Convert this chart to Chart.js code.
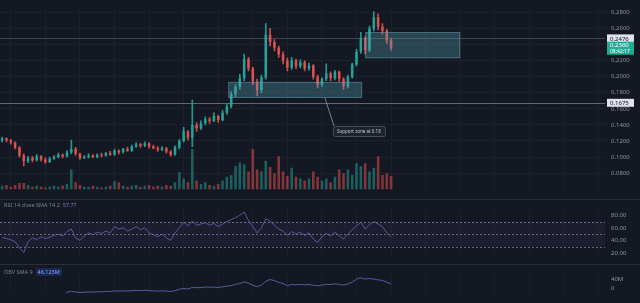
<!DOCTYPE html>
<html>
<head>
<meta charset="utf-8">
<script src="https://cdn.jsdelivr.net/npm/chart.js@4.4.1/dist/chart.umd.min.js"></script>
<style>
  html, body { margin: 0; padding: 0; background: #141823; }
  #wrap { position: relative; width: 640px; height: 303px; overflow: hidden; font-family: "Noto Sans", sans-serif; }
  .pane { position: absolute; left: 0; width: 640px; }
  #pricePane { top: 0; height: 199px; }
  #rsiPane { top: 200px; height: 64px; }
  #obvPane { top: 265px; height: 38px; }
  .sep { position: absolute; left: 0; width: 640px; height: 1px; background: #2a2e39; }
  .legend { position: absolute; left: 4px; font-size: 5.5px; color: #7c808b; white-space: nowrap; }
</style>
</head>
<body>
<div id="wrap">
  <div class="pane" id="pricePane"><canvas id="priceChart"></canvas></div>
  <div class="sep" style="top:199px"></div>
  <div class="pane" id="rsiPane"><canvas id="rsiChart"></canvas></div>
  <div class="sep" style="top:264px"></div>
  <div class="pane" id="obvPane"><canvas id="obvChart"></canvas></div>
  <div class="legend" style="top:201px">RSI 14 close SMA 14 2 &nbsp;<span style="color:#8a6fd0">57.77</span></div>
  <div class="legend" style="top:268px">OBV SMA 9 &nbsp;<span style="color:#8fa8ff;background:rgba(41,98,255,0.22);padding:0 2px">46.123M</span></div>
</div>
<script>
// candles (OHLC), one per bar
const opens  = [.121,.123,.121,.118,.112,.102,.095,.099,.096,.101,.097,.094,.098,.100,.103,.101,.106,.110,.104,.099,
                .100,.102,.100,.103,.102,.105,.103,.108,.106,.110,.108,.113,.116,.114,.117,.113,.111,.109,.111,.107,
                .103,.112,.120,.132,.124,.140,.136,.142,.147,.145,.151,.146,.155,.163,.178,.187,.198,.222,.210,.194,
                .183,.199,.252,.243,.236,.228,.220,.211,.220,.213,.218,.210,.214,.200,.190,.197,.204,.198,.206,.197,
                .188,.200,.215,.231,.248,.233,.260,.274,.262,.257,.245];
const closes = [.123,.121,.118,.112,.102,.095,.099,.096,.101,.097,.094,.098,.100,.103,.101,.106,.110,.104,.099,.100,
                .102,.100,.103,.102,.105,.103,.108,.106,.110,.108,.113,.116,.114,.117,.113,.111,.109,.111,.107,.103,
                .112,.120,.132,.124,.140,.136,.142,.147,.145,.151,.146,.155,.163,.178,.187,.198,.222,.210,.194,.183,
                .199,.252,.243,.236,.228,.220,.211,.220,.213,.218,.210,.214,.200,.190,.197,.204,.198,.206,.197,.188,
                .200,.215,.231,.248,.233,.260,.274,.262,.257,.245,.236];
const highs  = [.125,.124,.122,.119,.113,.104,.101,.101,.103,.102,.099,.100,.102,.105,.104,.108,.121,.112,.105,.102,
                .104,.103,.104,.105,.106,.107,.110,.109,.111,.112,.115,.118,.117,.119,.118,.115,.113,.113,.112,.108,
                .114,.122,.137,.133,.171,.143,.145,.150,.149,.155,.152,.158,.166,.181,.190,.203,.228,.224,.212,.197,
                .202,.266,.260,.246,.238,.231,.223,.224,.222,.221,.220,.217,.215,.202,.199,.216,.206,.208,.207,.199,
                .202,.217,.234,.255,.250,.263,.281,.278,.266,.259,.248];
const lows   = [.119,.119,.116,.110,.100,.089,.093,.094,.095,.095,.092,.093,.097,.099,.099,.100,.104,.102,.097,.098,
                .099,.099,.099,.100,.101,.102,.102,.104,.105,.107,.107,.112,.112,.113,.111,.110,.107,.108,.105,.101,
                .102,.110,.119,.121,.113,.132,.134,.140,.142,.144,.143,.145,.153,.161,.175,.184,.195,.207,.190,.176,
                .180,.197,.238,.232,.224,.216,.207,.209,.210,.211,.207,.208,.197,.186,.188,.195,.195,.196,.194,.184,
                .186,.198,.213,.229,.228,.231,.257,.258,.253,.241,.233];
// volume in millions
const volumes = [4,5,3,5,7,7,5,3,4,3,2,3,4,3,4,6,22,8,5,3,
                 3,4,3,2,3,4,9,8,4,3,4,5,3,4,5,3,4,3,5,4,
                 8,19,12,8,45,10,6,8,5,4,6,10,14,16,26,30,28,20,45,22,
                 20,32,25,18,37,20,15,24,14,12,10,12,20,14,10,12,8,14,22,18,
                 22,16,29,26,29,20,24,37,16,18,15];
// RSI(14)
const rsiValues = [45,43,41,38,28,21,38,44,41,46,43,45,48,50,47,54,58,44,40,47,
                   52,49,53,51,55,52,62,58,60,55,58,62,57,60,52,49,46,50,44,40,
                   52,60,69,63,71,64,66,68,64,67,62,66,70,73,76,80,85,72,62,52,
                   60,74,71,64,58,55,48,54,50,53,48,52,42,37,46,51,47,53,47,42,
                   50,57,63,69,58,65,70,66,62,52,46];
// OBV, millions
const obvValues = [-40,-41,-43,-46,-50,-54,-50,-52,-49,-51,-53,-50,-47,-44,-46,-19,-15,-18,-20,-19,
                   -18,-19,-17,-17,-16,-16,-13,-14,-13,-14,-12,-11,-12,-10,-12,-13,-14,-13,-14,-16,
                   -12,-6,-2,-5,3,1,2,4,3,4,2,5,8,11,16,20,27,22,12,6,
                   12,30,38,33,25,20,10,16,14,16,14,16,12,10,13,17,15,19,16,13,
                   18,26,40,46,40,42,40,36,34,26,18];

// axis ticks
const priceTicks = [0.08, 0.10, 0.12, 0.14, 0.16, 0.18, 0.20, 0.22, 0.24, 0.26, 0.28];
const rsiTicks = [20, 40, 60, 80];
const rsiLevels = [70, 50, 30];
const obvTicks = [0, 40];

// drawings on the price pane
const supportZone = { from: 52.3, to: 83.3, low: 0.1735, high: 0.1935 };
const resistZone  = { from: 84.0, to: 106.0, low: 0.2229, high: 0.2555 };
const hLines = [0.2476, 0.1675];
const hLineAlpha = [0.3, 0.55];
const calloutAt = { index: 74.7, price: 0.1735, text: 'Support zone at 0.18' };
const lastPrice = 0.2360;
const countdown = '08:42:17';

const N_SLOTS = 140; // candles + empty space on the right
const slotLabels = Array.from({ length: N_SLOTS }, (_, i) => String(i));

const GRID = '#1c202b';
const TICK = '#8e929c';
const UP = 'rgba(38,166,154,0.9)';
const DOWN = 'rgba(226,84,82,0.88)';

const candleColors = closes.map((c, i) => c >= opens[i] ? UP : DOWN);
const volColors = closes.map((c, i) => c >= opens[i] ? 'rgba(38,166,154,0.5)' : 'rgba(239,83,80,0.5)');

// shared x axis (hidden, only a few vertical grid lines)
function timeAxis() {
    return {
        type: 'category',
        offset: true,
        border: { display: false },
        ticks: { display: false, autoSkip: false },
        grid: { offset: false, drawTicks: false, color: c => (c.index % 8 === 2 ? GRID : 'transparent') },
        afterFit: s => { s.height = 0; }
    };
}

function rightAxis(min, max, ticks, fmt, showGrid) {
    return {
        position: 'right',
        min: min,
        max: max,
        border: { display: false },
        grid: { display: showGrid, color: GRID, drawTicks: false },
        afterBuildTicks: s => { s.ticks = ticks.map(v => ({ value: v })); },
        ticks: { color: TICK, padding: 6, font: { size: 6, family: 'Noto Sans' }, callback: fmt },
        afterFit: s => { s.width = 35; }
    };
}

const baseOpts = {
    responsive: true,
    maintainAspectRatio: false,
    animation: false,
    layout: { padding: 0 },
    plugins: { legend: { display: false }, tooltip: { enabled: false } }
};

// lines, zones, callout and price labels
const priceOverlay = {
    id: 'priceOverlay',
    beforeDatasetsDraw(chart) {
        const { ctx, chartArea: a, scales: { y } } = chart;
        ctx.save();
        ctx.lineWidth = 1;
        hLines.forEach((p, i) => {
            const py = Math.round(y.getPixelForValue(p)) + 0.5;
            ctx.strokeStyle = `rgba(160,165,178,${hLineAlpha[i]})`;
            ctx.beginPath(); ctx.moveTo(a.left, py); ctx.lineTo(a.right, py); ctx.stroke();
        });
        ctx.restore();
    },
    afterDatasetsDraw(chart) {
        const { ctx, scales: { x, y } } = chart;
        ctx.save();
        [supportZone, resistZone].forEach(z => {
            const x1 = x.getPixelForValue(z.from), x2 = x.getPixelForValue(z.to);
            const y1 = y.getPixelForValue(z.high), y2 = y.getPixelForValue(z.low);
            ctx.fillStyle = 'rgba(88,160,180,0.33)';
            ctx.fillRect(x1, y1, x2 - x1, y2 - y1);
            ctx.strokeStyle = 'rgba(110,170,190,0.4)';
            ctx.strokeRect(x1 + 0.5, y1 + 0.5, x2 - x1 - 1, y2 - y1 - 1);
        });
        // callout
        const ax = x.getPixelForValue(calloutAt.index);
        const ay = y.getPixelForValue(calloutAt.price);
        ctx.strokeStyle = 'rgba(130,170,185,0.75)';
        ctx.beginPath(); ctx.moveTo(ax, ay); ctx.lineTo(ax + 9, ay + 28); ctx.stroke();
        const bx = ax + 8, by = ay + 28;
        ctx.fillStyle = '#1e222d';
        ctx.strokeStyle = '#4a4e59';
        ctx.beginPath();
        ctx.roundRect(bx + 0.5, by + 0.5, 52, 10, 2);
        ctx.fill(); ctx.stroke();
        ctx.fillStyle = '#c3c6ce';
        ctx.font = '4.5px "Noto Sans"';
        ctx.textBaseline = 'middle';
        ctx.fillText(calloutAt.text, bx + 4, by + 5.5);
        ctx.restore();
    },
    afterDraw(chart) {
        const { ctx, chartArea: a, scales: { y } } = chart;
        ctx.save();
        ctx.font = '6px "Noto Sans"';
        ctx.textBaseline = 'middle';
        hLines.forEach(p => {
            const py = y.getPixelForValue(p);
            ctx.fillStyle = '#dfe2ea';
            ctx.fillRect(a.right + 2, py - 4, 27, 8);
            ctx.fillStyle = '#131722';
            ctx.fillText(p.toFixed(4), a.right + 5, py + 0.5);
        });
        const ly = y.getPixelForValue(lastPrice);
        ctx.fillStyle = '#22ab94';
        ctx.fillRect(a.right + 2, ly - 6, 27, 13);
        ctx.fillStyle = '#ffffff';
        ctx.fillText(lastPrice.toFixed(4), a.right + 5, ly - 2.5);
        ctx.font = '5px "Noto Sans"';
        ctx.fillText(countdown, a.right + 5, ly + 3.5);
        ctx.restore();
    }
};

new Chart(document.getElementById('priceChart'), {
    type: 'bar',
    data: {
        labels: slotLabels,
        datasets: [
            { data: lows.map((l, i) => [l, highs[i]]), backgroundColor: candleColors, barThickness: 1, grouped: false, yAxisID: 'y', order: 2 },
            { data: opens.map((o, i) => [o, closes[i]]), backgroundColor: candleColors, barPercentage: 0.6, categoryPercentage: 1, grouped: false, yAxisID: 'y', order: 1 },
            { data: volumes, backgroundColor: volColors, barPercentage: 0.6, categoryPercentage: 1, grouped: false, yAxisID: 'yVol', order: 3 }
        ]
    },
    options: {
        ...baseOpts,
        scales: {
            x: timeAxis(),
            y: rightAxis(0.0598, 0.2834, priceTicks, v => v.toFixed(4), true),
            yVol: { display: false, min: 0, max: 200 }
        }
    },
    plugins: [priceOverlay]
});

// RSI band and dashed levels
const rsiBands = {
    id: 'rsiBands',
    beforeDatasetsDraw(chart) {
        const { ctx, chartArea: a, scales: { y } } = chart;
        ctx.save();
        const top = y.getPixelForValue(rsiLevels[0]), bot = y.getPixelForValue(rsiLevels[2]);
        ctx.fillStyle = 'rgba(126,87,194,0.08)';
        ctx.fillRect(a.left, top, a.right - a.left, bot - top);
        ctx.strokeStyle = 'rgba(170,172,185,0.55)';
        ctx.setLineDash([2, 2]);
        rsiLevels.forEach(v => {
            const py = Math.round(y.getPixelForValue(v)) + 0.5;
            ctx.beginPath(); ctx.moveTo(a.left, py); ctx.lineTo(a.right, py); ctx.stroke();
        });
        ctx.restore();
    }
};

new Chart(document.getElementById('rsiChart'), {
    type: 'line',
    data: {
        labels: slotLabels,
        datasets: [{ data: rsiValues, borderColor: 'rgba(115,105,190,0.75)', borderWidth: 1, pointRadius: 0, tension: 0 }]
    },
    options: {
        ...baseOpts,
        scales: {
            x: timeAxis(),
            y: rightAxis(17.8, 88.9, rsiTicks, v => v.toFixed(2), false)
        }
    },
    plugins: [rsiBands]
});

new Chart(document.getElementById('obvChart'), {
    type: 'line',
    data: {
        labels: slotLabels,
        datasets: [{ data: obvValues, borderColor: 'rgba(105,115,200,0.75)', borderWidth: 1, pointRadius: 0, tension: 0 }]
    },
    options: {
        ...baseOpts,
        scales: {
            x: timeAxis(),
            y: rightAxis(-24.4, 60, obvTicks, v => (v === 0 ? '0' : v + 'M'), false)
        }
    }
});
</script>
</body>
</html>
